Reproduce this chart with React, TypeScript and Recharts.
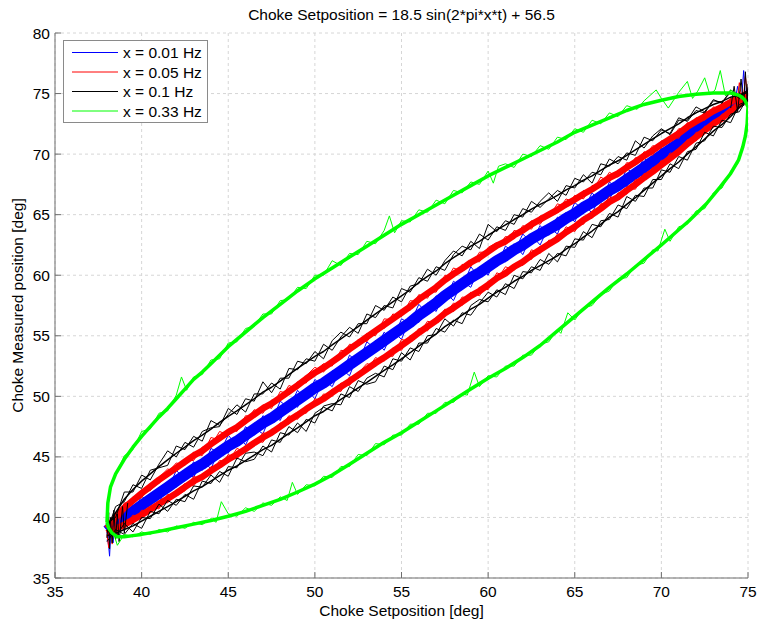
import { CartesianGrid, Line, LineChart, XAxis, YAxis } from "recharts";

// axis ticks
const xTicks = [35, 40, 45, 50, 55, 60, 65, 70, 75];
const yTicks = [35, 40, 45, 50, 55, 60, 65, 70, 75, 80];

const seriesNames = ["x = 0.01 Hz", "x = 0.05 Hz", "x = 0.1 Hz", "x = 0.33 Hz"];
const seriesColors = ["#0000ff", "#ff0000", "#000000", "#00ff00"];

// setposition grid shared by the slow loops (deg)
const bandX = [
  38, 38.5, 39, 39.5, 40, 40.5, 41, 41.5, 42, 42.5,
  43, 43.5, 44, 44.5, 45, 45.5, 46, 46.5, 47, 47.5,
  48, 48.5, 49, 49.5, 50, 50.5, 51, 51.5, 52, 52.5,
  53, 53.5, 54, 54.5, 55, 55.5, 56, 56.5, 57, 57.5,
  58, 58.5, 59, 59.5, 60, 60.5, 61, 61.5, 62, 62.5,
  63, 63.5, 64, 64.5, 65, 65.5, 66, 66.5, 67, 67.5,
  68, 68.5, 69, 69.5, 70, 70.5, 71, 71.5, 72, 72.5,
  73, 73.5, 74, 74.5, 75,
];

// 0.01 Hz
const blueMid = [
  38.9, 39.5, 40.0, 40.5, 41.0, 41.5, 42.0, 42.5, 43.0, 43.5,
  44.0, 44.4, 44.9, 45.4, 45.9, 46.3, 46.8, 47.3, 47.8, 48.2,
  48.7, 49.2, 49.7, 50.2, 50.7, 51.1, 51.6, 52.1, 52.6, 53.1,
  53.6, 54.1, 54.6, 55.1, 55.6, 56.1, 56.7, 57.2, 57.7, 58.3,
  58.8, 59.3, 59.8, 60.2, 60.7, 61.2, 61.6, 62.1, 62.5, 63.0,
  63.4, 63.8, 64.2, 64.7, 65.1, 65.6, 66.0, 66.5, 67.0, 67.4,
  67.9, 68.4, 68.9, 69.4, 69.9, 70.4, 70.9, 71.5, 72.0, 72.5,
  73.0, 73.4, 73.9, 74.4, 74.8,
];
const blueA = [
  39.6, 39.1, 40.9, 40.3, 41.8, 41.0, 42.5, 42.2, 43.9, 43.1,
  44.6, 43.9, 45.7, 45.3, 46.8, 45.9, 47.5, 46.8, 48.4, 47.9,
  49.6, 49.0, 50.5, 49.7, 51.4, 50.7, 52.1, 51.6, 53.4, 52.8,
  54.5, 53.9, 55.3, 54.6, 56.4, 56.0, 57.6, 56.8, 58.3, 57.8,
  59.5, 59.0, 60.7, 59.8, 61.2, 60.7, 62.4, 61.9, 63.4, 62.7,
  64.1, 63.3, 64.8, 64.3, 66.0, 65.4, 66.8, 66.0, 67.7, 67.1,
  68.8, 68.3, 69.7, 68.9, 70.5, 70.0, 71.8, 71.2, 72.7, 72.1,
  73.8, 73.2, 74.6, 74.3, 75.2,
];
const blueB = [
  38.1, 39.8, 39.4, 41.0, 40.2, 41.7, 41.1, 42.9, 42.5, 44.0,
  43.3, 44.8, 44.0, 45.7, 45.3, 46.8, 46.0, 47.4, 46.9, 48.6,
  48.0, 49.7, 49.1, 50.6, 49.8, 51.4, 50.8, 52.3, 51.7, 53.5,
  53.1, 54.6, 53.8, 55.4, 54.7, 56.5, 56.1, 57.7, 57.0, 58.7,
  57.9, 59.5, 59.0, 60.7, 60.0, 61.6, 61.1, 62.6, 61.7, 63.3,
  62.5, 64.0, 63.4, 65.2, 64.4, 66.0, 65.1, 66.7, 66.2, 67.9,
  67.3, 68.8, 68.0, 69.7, 69.1, 70.9, 70.3, 71.9, 71.1, 72.8,
  72.3, 73.8, 73.3, 74.7, 74.3,
];

// 0.05 Hz
const redUpMid = [
  39.1, 40.0, 40.8, 41.4, 42.0, 42.55, 43.1, 43.6, 44.1, 44.6,
  45.1, 45.5, 46.05, 46.55, 47.05, 47.45, 48.0, 48.5, 49.0, 49.4,
  49.9, 50.4, 50.9, 51.45, 51.95, 52.35, 52.85, 53.35, 53.9, 54.4,
  54.9, 55.4, 55.9, 56.4, 56.9, 57.4, 58.0, 58.5, 59.0, 59.6,
  60.1, 60.55, 61.05, 61.45, 61.95, 62.45, 62.8, 63.3, 63.7, 64.2,
  64.6, 65.0, 65.4, 65.85, 66.25, 66.7, 67.1, 67.55, 68.05, 68.4,
  68.9, 69.35, 69.85, 70.3, 70.8, 71.25, 71.7, 72.25, 72.7, 73.1,
  73.55, 73.9, 74.3, 74.7, 75.0,
];
const redLoMid = [
  38.7, 39.05, 39.4, 39.8, 40.2, 40.65, 41.1, 41.55, 42.0, 42.5,
  43.0, 43.35, 43.85, 44.3, 44.8, 45.2, 45.65, 46.15, 46.6, 47.0,
  47.5, 48.0, 48.45, 48.95, 49.4, 49.8, 50.3, 50.8, 51.25, 51.75,
  52.25, 52.75, 53.2, 53.7, 54.2, 54.7, 55.25, 55.75, 56.25, 56.85,
  57.3, 57.8, 58.3, 58.7, 59.2, 59.75, 60.15, 60.7, 61.1, 61.65,
  62.1, 62.55, 63.0, 63.55, 64.0, 64.55, 65.0, 65.5, 66.05, 66.45,
  67.0, 67.5, 68.05, 68.55, 69.1, 69.65, 70.2, 70.85, 71.4, 71.95,
  72.5, 72.95, 73.55, 74.1, 74.6,
];
const redUpA = [
  39.4, 39.7, 41.2, 41.2, 42.3, 42.2, 43.3, 44.0, 43.8, 44.7,
  44.7, 45.8, 45.9, 47.1, 46.8, 47.7, 47.9, 48.9, 48.6, 49.7,
  49.7, 50.9, 50.6, 51.7, 52.4, 52.0, 53.0, 53.1, 54.3, 54.2,
  55.2, 55.0, 56.4, 56.3, 57.1, 57.1, 58.4, 58.1, 59.3, 59.4,
  60.6, 60.3, 61.2, 61.1, 62.3, 62.7, 62.5, 63.7, 63.5, 64.5,
  64.2, 65.2, 65.3, 66.3, 66.0, 67.0, 66.9, 68.1, 67.7, 68.6,
  68.6, 69.7, 69.8, 70.7, 70.5, 71.5, 71.3, 72.6, 72.5, 73.5,
  73.4, 74.2, 74.2, 75.0, 74.8,
];
const redUpB = [
  38.9, 40.4, 40.5, 41.7, 41.6, 42.8, 42.8, 43.7, 44.5, 44.3,
  45.4, 45.1, 46.6, 46.4, 47.3, 47.1, 48.4, 48.3, 49.3, 49.0,
  50.4, 50.2, 51.2, 51.1, 52.1, 52.7, 52.5, 53.8, 53.7, 54.7,
  54.5, 55.6, 55.6, 56.8, 56.6, 57.9, 57.8, 58.7, 58.6, 60.0,
  59.9, 60.9, 60.7, 61.9, 61.9, 62.2, 63.2, 63.0, 64.1, 63.8,
  64.9, 64.8, 65.9, 65.6, 66.6, 66.3, 67.4, 67.4, 68.5, 68.1,
  69.3, 69.1, 70.2, 69.9, 71.1, 71.1, 72.1, 72.0, 73.0, 72.8,
  73.9, 73.7, 74.6, 74.5, 75.1,
];
const redLoA = [
  39.0, 38.7, 39.6, 39.5, 40.6, 40.5, 41.4, 41.2, 42.2, 42.8,
  42.6, 43.5, 43.6, 44.7, 44.6, 45.7, 45.4, 46.4, 46.2, 47.3,
  47.4, 48.4, 48.1, 49.2, 49.2, 50.2, 50.0, 51.1, 50.9, 51.9,
  52.7, 52.5, 53.4, 53.3, 54.7, 54.5, 55.6, 55.4, 56.5, 56.8,
  57.7, 57.5, 58.6, 58.3, 59.4, 59.6, 60.7, 60.4, 61.2, 61.3,
  62.4, 62.4, 63.4, 63.3, 64.2, 64.2, 65.3, 65.4, 66.5, 66.2,
  67.2, 67.1, 68.4, 68.4, 69.5, 69.4, 70.4, 70.6, 71.8, 71.8,
  72.8, 72.7, 73.8, 73.9, 74.7,
];
const redLoB = [
  38.4, 39.4, 39.2, 40.2, 39.9, 40.9, 40.7, 41.9, 41.8, 42.2,
  43.4, 43.1, 44.2, 44.1, 45.2, 44.8, 45.9, 45.9, 47.0, 46.8,
  47.8, 47.7, 48.7, 48.6, 49.8, 49.6, 50.6, 50.4, 51.6, 51.5,
  52.1, 53.2, 52.9, 54.0, 53.8, 55.0, 55.1, 56.2, 56.0, 57.2,
  57.0, 58.2, 58.1, 59.0, 58.8, 60.2, 59.9, 60.9, 60.8, 62.1,
  61.8, 62.9, 62.8, 64.0, 63.6, 64.8, 64.7, 65.9, 65.9, 66.8,
  66.7, 67.9, 67.8, 68.9, 68.9, 70.1, 69.9, 71.2, 71.1, 72.3,
  72.3, 73.3, 73.4, 74.3, 74.5,
];

// 0.1 Hz
const blackUpMid = [
  39.2, 40.4, 41.5, 42.3, 43.0, 43.6, 44.2, 44.75, 45.3, 45.8,
  46.35, 46.8, 47.3, 47.85, 48.35, 48.8, 49.3, 49.8, 50.35, 50.75,
  51.25, 51.8, 52.3, 52.8, 53.3, 53.7, 54.25, 54.75, 55.25, 55.75,
  56.3, 56.8, 57.3, 57.8, 58.3, 58.8, 59.4, 59.9, 60.35, 60.95,
  61.45, 61.9, 62.4, 62.8, 63.3, 63.75, 64.15, 64.6, 65.0, 65.45,
  65.85, 66.2, 66.6, 67.05, 67.4, 67.85, 68.2, 68.65, 69.1, 69.45,
  69.9, 70.35, 70.8, 71.25, 71.7, 72.1, 72.5, 73.0, 73.4, 73.75,
  74.1, 74.35, 74.7, 74.9, 75.1,
];
const blackLoMid = [
  38.5, 38.7, 39.0, 39.3, 39.7, 40.1, 40.5, 40.9, 41.3, 41.75,
  42.2, 42.55, 43.0, 43.45, 43.9, 44.25, 44.7, 45.15, 45.6, 45.95,
  46.45, 46.95, 47.4, 47.9, 48.4, 48.75, 49.25, 49.75, 50.2, 50.7,
  51.15, 51.65, 52.15, 52.6, 53.1, 53.6, 54.15, 54.65, 55.15, 55.75,
  56.2, 56.7, 57.2, 57.6, 58.1, 58.6, 59.0, 59.5, 59.9, 60.4,
  60.8, 61.2, 61.6, 62.15, 62.6, 63.15, 63.65, 64.2, 64.8, 65.25,
  65.85, 66.4, 67.0, 67.6, 68.2, 68.8, 69.35, 70.0, 70.6, 71.25,
  71.9, 72.45, 73.1, 73.85, 74.5,
];
const blackUpA = [
  39.5, 40.0, 42.1, 42.1, 43.5, 43.1, 44.4, 45.5, 45.0, 46.2,
  45.8, 47.1, 47.4, 47.5, 49.0, 48.5, 49.8, 49.6, 51.2, 50.3,
  51.5, 51.5, 52.9, 52.7, 53.7, 53.1, 54.6, 55.3, 54.9, 56.0,
  56.0, 57.5, 57.1, 58.2, 57.8, 59.1, 59.3, 60.5, 60.0, 61.2,
  62.0, 61.6, 62.8, 62.2, 64.2, 63.6, 64.5, 64.2, 65.5, 65.2,
  66.1, 66.8, 66.1, 67.4, 67.2, 68.3, 67.6, 69.2, 69.0, 69.8,
  69.5, 71.1, 70.5, 71.5, 72.1, 71.6, 72.8, 72.8, 73.9, 73.5,
  74.5, 74.2, 75.3, 74.8, 75.3,
];
const blackUpB = [
  38.9, 40.9, 41.3, 42.7, 42.4, 43.9, 44.1, 44.3, 45.9, 45.6,
  46.7, 46.3, 48.0, 47.6, 48.5, 49.3, 48.7, 50.2, 50.2, 51.1,
  50.6, 52.3, 52.2, 53.1, 52.9, 54.3, 53.8, 54.9, 55.7, 55.2,
  56.8, 56.5, 57.5, 57.3, 58.9, 58.6, 59.8, 59.5, 60.7, 60.4,
  61.7, 62.4, 62.1, 63.4, 62.9, 64.0, 63.7, 65.0, 64.8, 66.1,
  65.6, 66.3, 67.0, 66.6, 68.0, 67.7, 68.5, 68.3, 69.6, 69.2,
  70.1, 69.9, 71.4, 71.1, 72.0, 71.7, 73.0, 72.7, 73.6, 73.4,
  74.4, 74.3, 75.1, 74.6, 75.2,
];
const blackLoA = [
  38.0, 39.0, 38.6, 39.5, 39.1, 40.5, 40.3, 41.4, 41.0, 41.9,
  41.5, 43.0, 42.8, 43.8, 43.4, 44.9, 44.6, 44.8, 45.9, 45.4,
  47.0, 46.8, 47.8, 47.1, 48.6, 49.1, 48.8, 50.2, 49.9, 51.3,
  51.0, 51.2, 52.5, 52.2, 53.6, 53.0, 54.4, 54.4, 55.6, 55.3,
  56.3, 56.0, 57.5, 58.0, 57.8, 58.8, 58.4, 60.0, 59.7, 60.7,
  60.4, 61.8, 61.1, 62.4, 62.3, 63.6, 63.1, 64.5, 64.6, 65.8,
  65.5, 66.6, 66.5, 67.9, 67.9, 69.2, 68.8, 70.2, 70.4, 71.8,
  71.5, 72.8, 72.6, 74.1, 74.4,
];
const blackLoB = [
  38.9, 38.4, 39.5, 38.8, 40.0, 39.9, 41.1, 40.5, 41.5, 41.3,
  42.6, 42.5, 43.5, 42.9, 44.2, 44.1, 45.3, 45.4, 45.1, 46.4,
  46.2, 47.5, 47.0, 48.1, 47.8, 49.2, 49.4, 49.3, 50.8, 50.4,
  51.5, 51.9, 51.6, 53.1, 52.9, 54.0, 53.7, 55.0, 55.1, 56.4,
  55.8, 56.9, 56.7, 57.7, 58.6, 58.2, 59.3, 58.9, 60.3, 60.2,
  61.3, 60.9, 61.8, 61.6, 63.0, 62.9, 64.2, 64.0, 65.1, 64.8,
  66.5, 66.1, 67.2, 67.2, 68.7, 68.5, 69.8, 69.5, 70.9, 71.1,
  72.3, 72.2, 73.3, 73.5, 74.7,
];

// spikes bunched at the turning points [setposition, measured]
const blueTipLeft = [[38.0, 38.8], [38.1, 37.6], [38.15, 36.8], [38.25, 39.6], [38.35, 37.9], [38.5, 39.9], [38.7, 38.5]];
const blueTipRight = [[74.2, 74.0], [74.4, 75.6], [74.6, 73.9], [74.75, 76.9], [74.85, 74.6], [75.0, 75.5]];
const redTipLeft = [[38.0, 38.6], [38.1, 37.5], [38.2, 39.8], [38.3, 37.8], [38.45, 40.1], [38.6, 38.4], [38.8, 40.5]];
const redTipRight = [[74.1, 74.6], [74.3, 73.5], [74.5, 75.9], [74.7, 74.0], [74.85, 76.4], [75.0, 74.6]];
const blackTipLeft = [
  [38.0, 38.3], [38.1, 40.4], [38.15, 37.4], [38.2, 40.0], [38.3, 37.9], [38.4, 40.6],
  [38.5, 38.2], [38.6, 40.3], [38.7, 38.0], [38.9, 40.9], [39.0, 38.7], [39.2, 41.2],
];
const blackTipRight = [[74.0, 73.8], [74.2, 75.6], [74.4, 73.5], [74.6, 76.2], [74.75, 74.0], [74.85, 76.8], [74.95, 74.3], [75.0, 75.8]];

// 0.33 Hz, wide loop
const greenMain = [
  [38.0, 39.6], [38.05, 41.2], [38.2, 42.5], [38.5, 43.6], [39.0, 44.8], [39.5, 45.8],
  [40.0, 46.7], [40.5, 47.5], [41.0, 48.3], [41.5, 49.0], [42.0, 49.8], [42.5, 50.6],
  [43.0, 51.4], [43.5, 52.0], [44.0, 52.7], [44.5, 53.4], [45.0, 54.1], [46.0, 55.3],
  [47.0, 56.5], [48.0, 57.6], [49.0, 58.7], [50.0, 59.7], [51.0, 60.6], [52.0, 61.5],
  [53.0, 62.4], [54.0, 63.3], [55.0, 64.2], [56.0, 65.0], [57.0, 65.8], [58.0, 66.6],
  [59.0, 67.4], [60.0, 68.2], [61.0, 68.9], [62.0, 69.6], [63.0, 70.3], [64.0, 71.0],
  [65.0, 71.8], [66.0, 72.4], [67.0, 73.0], [68.0, 73.6], [69.0, 74.1], [70.0, 74.45],
  [71.0, 74.75], [72.0, 74.95], [73.0, 75.05], [74.0, 75.05], [74.5, 74.85], [74.8, 74.5],
  [75.0, 73.9], [74.95, 72.5], [74.85, 71.5], [74.7, 70.6], [74.45, 69.5], [74.0, 68.4],
  [73.4, 67.3], [72.6, 65.9], [71.6, 64.5], [70.0, 62.5], [69.0, 61.3], [68.0, 60.1],
  [67.0, 59.0], [66.0, 57.8], [65.0, 56.6], [64.0, 55.4], [63.0, 54.2], [62.0, 53.2],
  [61.0, 52.3], [60.0, 51.5], [59.0, 50.6], [58.0, 49.7], [57.0, 48.8], [56.0, 47.9],
  [55.0, 47.0], [54.0, 46.2], [53.0, 45.3], [52.0, 44.4], [51.0, 43.5], [50.0, 42.75],
  [49.0, 42.1], [48.0, 41.5], [47.0, 41.0], [46.0, 40.5], [45.0, 40.1], [44.0, 39.75],
  [43.0, 39.45], [42.0, 39.15], [41.0, 38.85], [40.0, 38.6], [39.5, 38.5], [39.0, 38.4],
  [38.6, 38.4], [38.3, 38.7], [38.1, 39.1], [38.0, 39.6],
];
const greenNoisy = [
  [38.0, 39.2], [38.1, 41.6], [38.3, 43.0], [38.6, 43.8], [39.0, 45.1], [39.5, 45.6],
  [40.0, 47.1], [40.5, 47.3], [41.0, 48.6], [41.5, 48.8], [42.0, 50.1], [42.3, 51.6],
  [42.6, 50.5], [43.0, 51.6], [43.5, 51.8], [44.0, 53.0], [44.5, 53.1], [45.0, 54.4],
  [45.5, 54.5], [46.0, 55.6], [46.5, 55.8], [47.0, 56.8], [47.5, 56.8], [48.0, 57.9],
  [48.5, 58.0], [49.0, 59.0], [49.5, 58.9], [50.0, 60.0], [50.5, 60.0], [51.0, 61.2],
  [51.5, 60.8], [52.0, 61.8], [52.5, 61.7], [53.0, 62.8], [53.5, 62.6], [54.0, 63.7],
  [54.3, 64.9], [54.6, 63.5], [55.0, 64.5], [55.5, 64.4], [56.0, 65.4], [56.5, 65.2],
  [57.0, 66.2], [57.5, 65.9], [58.0, 67.0], [58.5, 66.8], [59.0, 67.7], [59.5, 67.5],
  [60.0, 68.6], [60.3, 67.6], [60.6, 69.0], [61.0, 69.2], [61.5, 68.9], [62.0, 70.0],
  [62.5, 69.8], [63.0, 70.7], [63.5, 70.4], [64.0, 71.4], [64.5, 71.2], [65.0, 72.1],
  [65.5, 71.8], [66.0, 72.8], [66.5, 72.5], [67.0, 73.4], [67.5, 73.1], [68.0, 74.0],
  [68.6, 73.7], [69.0, 74.4], [69.7, 75.3], [70.0, 74.6], [70.4, 73.8], [71.0, 75.1],
  [71.5, 76.0], [71.8, 74.6], [72.1, 75.2], [72.5, 76.3], [72.8, 74.9], [73.1, 75.3],
  [73.4, 76.9], [73.7, 74.8], [74.0, 75.3], [74.4, 74.9], [74.7, 74.8], [74.9, 74.2],
  [75.0, 73.6], [74.95, 72.2], [74.8, 71.2], [74.65, 70.4], [74.4, 69.2], [74.0, 68.6],
  [73.5, 67.2], [73.0, 66.8], [72.5, 65.5], [72.0, 65.3], [71.5, 64.2], [71.0, 64.0],
  [70.5, 62.8], [70.2, 63.8], [69.8, 62.0], [69.5, 62.1], [69.0, 61.0], [68.5, 60.8],
  [68.0, 59.8], [67.5, 59.7], [67.0, 58.7], [66.5, 58.4], [66.0, 57.5], [65.5, 57.3],
  [65.0, 56.3], [64.6, 56.9], [64.2, 55.2], [64.0, 55.5], [63.5, 54.5], [63.0, 54.3],
  [62.5, 53.4], [62.0, 53.4], [61.5, 52.5], [61.0, 52.5], [60.5, 51.6], [60.0, 51.7],
  [59.5, 50.8], [59.2, 52.0], [58.8, 50.1], [58.5, 50.2], [58.0, 49.5], [57.5, 49.5],
  [57.0, 48.6], [56.5, 48.6], [56.0, 47.7], [55.5, 47.7], [55.0, 46.8], [54.5, 46.8],
  [54.0, 46.0], [53.5, 46.1], [53.0, 45.1], [52.5, 45.2], [52.0, 44.2], [51.5, 44.2],
  [51.0, 43.3], [50.5, 43.4], [50.0, 42.6], [49.5, 42.7], [49.0, 41.9], [48.7, 42.9],
  [48.4, 41.4], [48.0, 41.7], [47.5, 41.0], [47.0, 41.2], [46.5, 40.5], [46.0, 40.8],
  [45.5, 40.1], [45.0, 40.3], [44.6, 41.3], [44.3, 39.6], [44.0, 39.9], [43.5, 39.4],
  [43.0, 39.6], [42.5, 39.1], [42.0, 39.3], [41.5, 38.8], [41.0, 39.0], [40.5, 38.6],
  [40.0, 38.8], [39.5, 38.4], [39.0, 38.6], [38.6, 37.7], [38.4, 38.6], [38.2, 38.9],
  [38.0, 39.2],
];

const FONT = "'Liberation Sans', Arial, Helvetica, sans-serif";
const AXIS = "#6e6e6e";

type Pt = { x: number; y: number };

const onGrid = (ys: number[]): Pt[] => bandX.map((x, i) => ({ x, y: ys[i] }));
const fromPairs = (pairs: number[][]): Pt[] => pairs.map(([x, y]) => ({ x, y }));

type Trace = { id: string; data: Pt[]; color: string; width: number };

const [BLUE, RED, BLACK, GREEN] = seriesColors;

// drawn in legend order, so the fast loop ends up on top
const traces: Trace[] = [
  { id: "blueMid", data: onGrid(blueMid), color: BLUE, width: 11 },
  { id: "blueA", data: onGrid(blueA), color: BLUE, width: 1 },
  { id: "blueB", data: onGrid(blueB), color: BLUE, width: 1 },
  { id: "blueTipL", data: fromPairs(blueTipLeft), color: BLUE, width: 1 },
  { id: "blueTipR", data: fromPairs(blueTipRight), color: BLUE, width: 1 },
  { id: "redUpMid", data: onGrid(redUpMid), color: RED, width: 6.5 },
  { id: "redLoMid", data: onGrid(redLoMid), color: RED, width: 6.5 },
  { id: "redUpA", data: onGrid(redUpA), color: RED, width: 1 },
  { id: "redUpB", data: onGrid(redUpB), color: RED, width: 1 },
  { id: "redLoA", data: onGrid(redLoA), color: RED, width: 1 },
  { id: "redLoB", data: onGrid(redLoB), color: RED, width: 1 },
  { id: "redTipL", data: fromPairs(redTipLeft), color: RED, width: 1 },
  { id: "redTipR", data: fromPairs(redTipRight), color: RED, width: 1 },
  { id: "blackUpMid", data: onGrid(blackUpMid), color: BLACK, width: 1.5 },
  { id: "blackLoMid", data: onGrid(blackLoMid), color: BLACK, width: 1.5 },
  { id: "blackUpA", data: onGrid(blackUpA), color: BLACK, width: 1 },
  { id: "blackUpB", data: onGrid(blackUpB), color: BLACK, width: 1 },
  { id: "blackLoA", data: onGrid(blackLoA), color: BLACK, width: 1 },
  { id: "blackLoB", data: onGrid(blackLoB), color: BLACK, width: 1 },
  { id: "blackTipL", data: fromPairs(blackTipLeft), color: BLACK, width: 1 },
  { id: "blackTipR", data: fromPairs(blackTipRight), color: BLACK, width: 1 },
  { id: "greenMain", data: fromPairs(greenMain), color: GREEN, width: 3.5 },
  { id: "greenNoisy", data: fromPairs(greenNoisy), color: GREEN, width: 1 },
];

function XTick({ x, y, payload }: any) {
  return (
    <g>
      <line x1={x} x2={x} y1={y} y2={y - 6} stroke={AXIS} />
      <text x={x} y={y + 19} textAnchor="middle" fill="#000" fontSize={15.5} fontFamily={FONT}>
        {payload.value}
      </text>
    </g>
  );
}

function YTick({ x, y, payload }: any) {
  return (
    <g>
      <line x1={x} x2={x + 6} y1={y} y2={y} stroke={AXIS} />
      <text x={x - 5} y={y + 5.5} textAnchor="end" fill="#000" fontSize={15.5} fontFamily={FONT}>
        {payload.value}
      </text>
    </g>
  );
}

function Overlay() {
  return (
    <svg
      width={758}
      height={625}
      style={{ position: "absolute", left: 0, top: 0, pointerEvents: "none" }}
      fontFamily={FONT}
      fontSize={15.5}
    >
      <text x={401.5} y={20} textAnchor="middle" fill="#000">
        Choke Setposition = 18.5 sin(2*pi*x*t) + 56.5
      </text>
      <text x={401.5} y={616} textAnchor="middle" fill="#000">
        Choke Setposition [deg]
      </text>
      <text x={23} y={305.5} textAnchor="middle" fill="#000" transform="rotate(-90, 23, 305.5)">
        Choke Measured position [deg]
      </text>
      <g>
        <rect x={63.5} y={40.5} width={144} height={82} fill="#fff" stroke="#8a8a8a" />
        {seriesNames.map((name, i) => {
          const cy = 52.5 + i * 19.5;
          return (
            <g key={name}>
              <line x1={72} x2={118} y1={cy} y2={cy} stroke={seriesColors[i]} strokeWidth={1} />
              <text x={123} y={cy + 5.5} fill="#000">
                {name}
              </text>
            </g>
          );
        })}
      </g>
    </svg>
  );
}

export default function App() {
  return (
    <div style={{ position: "absolute", left: 0, top: 0, width: 758, height: 625, background: "#fff" }}>
      <LineChart width={758} height={625} margin={{ top: 33, right: 10, bottom: 2, left: 10 }}>
        <CartesianGrid stroke="#d6d6d6" strokeDasharray="3 3" />
        <XAxis
          type="number"
          dataKey="x"
          domain={[35, 75]}
          ticks={xTicks}
          allowDataOverflow
          height={45}
          tickSize={0}
          tickMargin={0}
          tickLine={false}
          axisLine={{ stroke: AXIS }}
          tick={<XTick />}
          interval={0}
        />
        <YAxis
          type="number"
          dataKey="y"
          domain={[35, 80]}
          ticks={yTicks}
          allowDataOverflow
          width={45}
          tickSize={0}
          tickMargin={0}
          tickLine={false}
          axisLine={{ stroke: AXIS }}
          tick={<YTick />}
          interval={0}
        />
        {traces.map((t) => (
          <Line
            key={t.id}
            data={t.data}
            dataKey="y"
            type="linear"
            stroke={t.color}
            strokeWidth={t.width}
            strokeLinejoin="round"
            dot={false}
            activeDot={false}
            isAnimationActive={false}
          />
        ))}
      </LineChart>
      <Overlay />
    </div>
  );
}
